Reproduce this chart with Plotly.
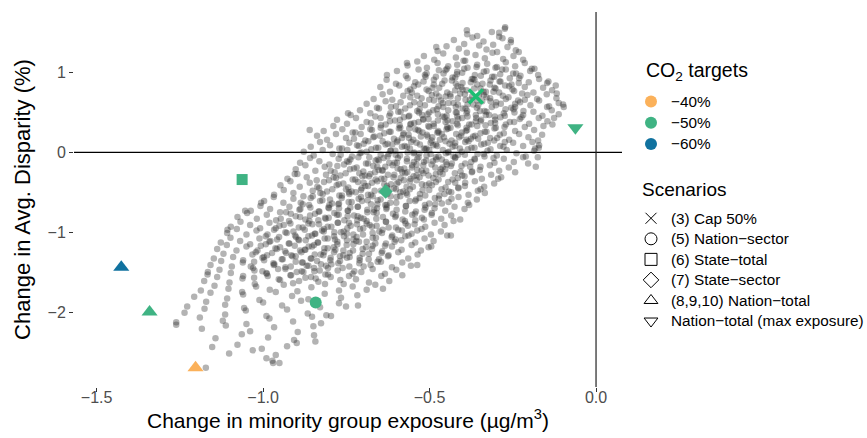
import plotly.graph_objects as go

# ---------------- data ----------------
# Monte-Carlo cloud: hand-estimated sample of the grey points
cloud_points = [
    (-0.388,1.53),(-0.357,1.46),(-0.313,1.51),(-0.291,1.45),(-0.274,1.55),
    (-0.427,1.41),(-0.396,1.36),(-0.371,1.44),(-0.338,1.39),(-0.309,1.35),(-0.281,1.43),(-0.256,1.38),
    (-0.476,1.27),(-0.449,1.33),(-0.412,1.30),(-0.388,1.25),(-0.351,1.34),(-0.329,1.29),(-0.297,1.26),(-0.266,1.32),(-0.241,1.28),
    (-0.517,1.21),(-0.486,1.16),(-0.459,1.24),(-0.421,1.19),(-0.398,1.15),(-0.362,1.22),(-0.334,1.18),(-0.311,1.25),(-0.279,1.17),(-0.248,1.21),(-0.219,1.16),
    (-0.566,1.09),(-0.537,1.14),(-0.508,1.06),(-0.476,1.12),(-0.448,1.05),(-0.417,1.10),(-0.393,1.15),(-0.359,1.07),(-0.327,1.11),(-0.302,1.06),(-0.271,1.13),(-0.243,1.08),(-0.214,1.12),(-0.193,1.05),
    (-0.598,1.02),(-0.571,0.96),(-0.533,1.04),(-0.509,0.99),(-0.481,0.95),(-0.452,1.03),(-0.418,0.98),(-0.396,1.05),(-0.364,0.97),(-0.337,1.01),(-0.306,0.95),(-0.282,1.04),(-0.249,0.99),(-0.227,0.96),(-0.198,1.02),(-0.174,0.97),
    (-0.629,0.91),(-0.601,0.86),(-0.566,0.93),(-0.543,0.88),(-0.512,0.95),(-0.487,0.85),(-0.455,0.90),(-0.423,0.94),(-0.401,0.87),(-0.369,0.92),(-0.341,0.86),(-0.312,0.95),(-0.287,0.89),(-0.254,0.85),(-0.231,0.93),(-0.202,0.88),(-0.171,0.92),(-0.147,0.87),
    (-0.648,0.82),(-0.619,0.76),(-0.591,0.84),(-0.558,0.79),(-0.534,0.85),(-0.503,0.77),(-0.471,0.81),(-0.447,0.75),(-0.416,0.83),(-0.389,0.78),(-0.357,0.85),(-0.331,0.76),(-0.302,0.80),(-0.273,0.84),(-0.246,0.77),(-0.214,0.82),(-0.188,0.75),(-0.159,0.81),(-0.132,0.78),(-0.121,0.84),
    (-0.668,0.67),(-0.641,0.73),(-0.612,0.66),(-0.579,0.71),(-0.553,0.75),(-0.524,0.68),(-0.493,0.72),(-0.466,0.65),(-0.437,0.70),(-0.408,0.74),(-0.379,0.66),(-0.352,0.71),(-0.318,0.68),(-0.291,0.75),(-0.263,0.69),(-0.234,0.65),(-0.206,0.72),(-0.177,0.67),(-0.148,0.73),(-0.119,0.68),
    (-0.689,0.61),(-0.658,0.56),(-0.632,0.64),(-0.601,0.58),(-0.573,0.55),(-0.546,0.63),(-0.514,0.59),(-0.487,0.65),(-0.459,0.57),(-0.428,0.62),(-0.401,0.55),(-0.369,0.60),(-0.342,0.64),(-0.313,0.57),(-0.286,0.61),(-0.255,0.56),(-0.228,0.63),(-0.197,0.59),(-0.171,0.65),(-0.141,0.58),(-0.112,0.62),(-0.097,0.57),
    (-0.737,0.47),(-0.709,0.53),(-0.678,0.49),(-0.652,0.55),(-0.621,0.46),(-0.594,0.51),(-0.563,0.45),(-0.537,0.52),(-0.506,0.48),(-0.478,0.54),(-0.449,0.46),(-0.421,0.50),(-0.392,0.55),(-0.361,0.47),(-0.335,0.52),(-0.304,0.45),(-0.277,0.49),(-0.248,0.54),(-0.219,0.47),(-0.188,0.51),(-0.161,0.46),(-0.133,0.53),(-0.112,0.48),
    (-0.778,0.41),(-0.748,0.36),(-0.721,0.43),(-0.689,0.38),(-0.663,0.45),(-0.632,0.35),(-0.604,0.40),(-0.577,0.44),(-0.546,0.37),(-0.519,0.42),(-0.488,0.36),(-0.461,0.45),(-0.431,0.39),(-0.402,0.43),(-0.374,0.35),(-0.345,0.41),(-0.316,0.37),(-0.287,0.44),(-0.259,0.38),(-0.229,0.42),(-0.201,0.36),(-0.172,0.43),(-0.146,0.39),(-0.131,0.35),
    (-0.818,0.27),(-0.789,0.33),(-0.762,0.29),(-0.731,0.25),(-0.704,0.32),(-0.673,0.28),(-0.646,0.34),(-0.617,0.26),(-0.588,0.31),(-0.558,0.35),(-0.531,0.27),(-0.501,0.32),(-0.473,0.25),(-0.444,0.30),(-0.415,0.34),(-0.387,0.28),(-0.357,0.33),(-0.329,0.26),(-0.301,0.31),(-0.271,0.35),(-0.243,0.27),(-0.214,0.32),(-0.186,0.28),(-0.158,0.33),
    (-0.838,0.21),(-0.808,0.16),(-0.781,0.23),(-0.751,0.18),(-0.723,0.25),(-0.693,0.15),(-0.666,0.20),(-0.636,0.24),(-0.607,0.17),(-0.579,0.22),(-0.549,0.16),(-0.521,0.25),(-0.492,0.19),(-0.463,0.23),(-0.434,0.15),(-0.405,0.21),(-0.376,0.17),(-0.347,0.24),(-0.318,0.18),(-0.289,0.22),(-0.261,0.16),(-0.231,0.23),(-0.203,0.19),(-0.174,0.15),(-0.162,0.22),
    (-0.857,0.07),(-0.829,0.13),(-0.799,0.09),(-0.771,0.05),(-0.741,0.12),(-0.713,0.08),(-0.684,0.14),(-0.654,0.06),(-0.626,0.11),(-0.596,0.15),(-0.568,0.07),(-0.539,0.12),(-0.509,0.05),(-0.481,0.10),(-0.452,0.14),(-0.423,0.08),(-0.393,0.13),(-0.365,0.06),(-0.336,0.11),(-0.306,0.15),(-0.278,0.07),(-0.249,0.12),(-0.219,0.08),(-0.191,0.13),(-0.172,0.06),
    (-0.878,0.01),(-0.848,-0.04),(-0.821,0.03),(-0.791,-0.02),(-0.763,0.05),(-0.733,-0.05),(-0.705,0.00),(-0.675,0.04),(-0.647,-0.03),(-0.617,0.02),(-0.589,-0.04),(-0.559,0.05),(-0.531,-0.01),(-0.501,0.03),(-0.473,-0.05),(-0.443,0.01),(-0.414,-0.03),(-0.385,0.04),(-0.356,-0.02),(-0.326,0.02),(-0.298,-0.04),(-0.268,0.03),(-0.239,-0.01),(-0.211,-0.05),(-0.186,0.02),
    (-0.889,-0.13),(-0.859,-0.07),(-0.831,-0.11),(-0.801,-0.15),(-0.773,-0.08),(-0.743,-0.12),(-0.714,-0.06),(-0.685,-0.14),(-0.656,-0.09),(-0.626,-0.05),(-0.598,-0.13),(-0.568,-0.08),(-0.539,-0.15),(-0.510,-0.10),(-0.481,-0.06),(-0.451,-0.12),(-0.423,-0.07),(-0.393,-0.14),(-0.364,-0.09),(-0.335,-0.05),(-0.305,-0.13),(-0.277,-0.08),(-0.247,-0.12),(-0.219,-0.06),(-0.204,-0.14),
    (-0.902,-0.21),(-0.873,-0.16),(-0.843,-0.23),(-0.815,-0.18),(-0.785,-0.25),(-0.757,-0.15),(-0.727,-0.20),(-0.699,-0.24),(-0.669,-0.17),(-0.641,-0.22),(-0.611,-0.16),(-0.582,-0.25),(-0.553,-0.19),(-0.524,-0.23),(-0.494,-0.15),(-0.466,-0.21),(-0.436,-0.17),(-0.407,-0.24),(-0.378,-0.18),(-0.349,-0.22),(-0.319,-0.16),(-0.291,-0.23),(-0.262,-0.19),(-0.243,-0.25),
    (-0.927,-0.33),(-0.897,-0.27),(-0.869,-0.31),(-0.839,-0.35),(-0.811,-0.28),(-0.781,-0.32),(-0.752,-0.26),(-0.723,-0.34),(-0.694,-0.29),(-0.664,-0.25),(-0.636,-0.33),(-0.606,-0.28),(-0.577,-0.35),(-0.548,-0.30),(-0.519,-0.26),(-0.489,-0.32),(-0.461,-0.27),(-0.431,-0.34),(-0.402,-0.29),(-0.373,-0.25),(-0.343,-0.33),(-0.315,-0.28),(-0.285,-0.31),
    (-0.948,-0.41),(-0.918,-0.36),(-0.890,-0.43),(-0.860,-0.38),(-0.832,-0.45),(-0.802,-0.35),(-0.773,-0.40),(-0.744,-0.44),(-0.715,-0.37),(-0.685,-0.42),(-0.657,-0.36),(-0.627,-0.45),(-0.598,-0.39),(-0.569,-0.43),(-0.539,-0.35),(-0.511,-0.41),(-0.481,-0.37),(-0.452,-0.44),(-0.423,-0.38),(-0.394,-0.42),(-0.364,-0.36),(-0.336,-0.43),(-0.306,-0.39),
    (-0.967,-0.53),(-0.938,-0.47),(-0.909,-0.51),(-0.879,-0.55),(-0.851,-0.48),(-0.821,-0.52),(-0.792,-0.46),(-0.763,-0.54),(-0.734,-0.49),(-0.704,-0.45),(-0.676,-0.53),(-0.646,-0.48),(-0.617,-0.55),(-0.588,-0.50),(-0.559,-0.46),(-0.529,-0.52),(-0.501,-0.47),(-0.471,-0.54),(-0.442,-0.49),(-0.413,-0.45),(-0.383,-0.53),(-0.355,-0.48),(-0.334,-0.51),
    (-0.997,-0.61),(-0.968,-0.56),(-0.939,-0.63),(-0.909,-0.58),(-0.881,-0.65),(-0.851,-0.55),(-0.822,-0.60),(-0.793,-0.64),(-0.764,-0.57),(-0.734,-0.62),(-0.706,-0.56),(-0.676,-0.65),(-0.647,-0.59),(-0.618,-0.63),(-0.588,-0.55),(-0.560,-0.61),(-0.530,-0.57),(-0.501,-0.64),(-0.472,-0.58),(-0.443,-0.62),(-0.413,-0.56),(-0.385,-0.63),(-0.358,-0.59),
    (-1.037,-0.73),(-1.008,-0.67),(-0.979,-0.71),(-0.949,-0.75),(-0.921,-0.68),(-0.891,-0.72),(-0.862,-0.66),(-0.833,-0.74),(-0.804,-0.69),(-0.774,-0.65),(-0.746,-0.73),(-0.716,-0.68),(-0.687,-0.75),(-0.658,-0.70),(-0.629,-0.66),(-0.599,-0.72),(-0.571,-0.67),(-0.541,-0.74),(-0.512,-0.69),(-0.483,-0.65),(-0.453,-0.73),(-0.425,-0.68),(-0.395,-0.71),(-0.381,-0.66),
    (-1.077,-0.81),(-1.048,-0.76),(-1.019,-0.83),(-0.989,-0.78),(-0.961,-0.85),(-0.931,-0.75),(-0.902,-0.80),(-0.873,-0.84),(-0.844,-0.77),(-0.814,-0.82),(-0.786,-0.76),(-0.756,-0.85),(-0.727,-0.79),(-0.698,-0.83),(-0.668,-0.75),(-0.640,-0.81),(-0.610,-0.77),(-0.581,-0.84),(-0.552,-0.78),(-0.523,-0.82),(-0.493,-0.76),(-0.465,-0.83),(-0.435,-0.79),(-0.408,-0.84),
    (-1.097,-0.93),(-1.068,-0.87),(-1.039,-0.91),(-1.009,-0.95),(-0.981,-0.88),(-0.951,-0.92),(-0.922,-0.86),(-0.893,-0.94),(-0.864,-0.89),(-0.834,-0.85),(-0.806,-0.93),(-0.776,-0.88),(-0.747,-0.95),(-0.718,-0.90),(-0.689,-0.86),(-0.659,-0.92),(-0.631,-0.87),(-0.601,-0.94),(-0.572,-0.89),(-0.543,-0.85),(-0.513,-0.93),(-0.485,-0.88),(-0.455,-0.91),(-0.428,-0.86),
    (-1.108,-1.01),(-1.079,-0.96),(-1.050,-1.03),(-1.020,-0.98),(-0.992,-1.05),(-0.962,-0.95),(-0.933,-1.00),(-0.904,-1.04),(-0.875,-0.97),(-0.845,-1.02),(-0.817,-0.96),(-0.787,-1.05),(-0.758,-0.99),(-0.729,-1.03),(-0.699,-0.95),(-0.671,-1.01),(-0.641,-0.97),(-0.612,-1.04),(-0.583,-0.98),(-0.554,-1.02),(-0.524,-0.96),(-0.496,-1.03),(-0.466,-0.99),(-0.447,-1.04),
    (-1.127,-1.13),(-1.098,-1.07),(-1.069,-1.11),(-1.039,-1.15),(-1.011,-1.08),(-0.981,-1.12),(-0.952,-1.06),(-0.923,-1.14),(-0.894,-1.09),(-0.864,-1.05),(-0.836,-1.13),(-0.806,-1.08),(-0.777,-1.15),(-0.748,-1.10),(-0.719,-1.06),(-0.689,-1.12),(-0.661,-1.07),(-0.631,-1.14),(-0.602,-1.09),(-0.573,-1.05),(-0.543,-1.13),(-0.515,-1.08),(-0.488,-1.11),
    (-1.138,-1.21),(-1.109,-1.16),(-1.080,-1.23),(-1.050,-1.18),(-1.022,-1.25),(-0.992,-1.15),(-0.963,-1.20),(-0.934,-1.24),(-0.905,-1.17),(-0.875,-1.22),(-0.847,-1.16),(-0.817,-1.25),(-0.788,-1.19),(-0.759,-1.23),(-0.729,-1.15),(-0.701,-1.21),(-0.671,-1.17),(-0.642,-1.24),(-0.613,-1.18),(-0.584,-1.22),(-0.554,-1.16),(-0.526,-1.23),(-0.503,-1.19),
    (-1.148,-1.33),(-1.119,-1.27),(-1.090,-1.31),(-1.060,-1.35),(-1.032,-1.28),(-1.002,-1.32),(-0.973,-1.26),(-0.944,-1.34),(-0.915,-1.29),(-0.885,-1.25),(-0.857,-1.33),(-0.827,-1.28),(-0.798,-1.35),(-0.769,-1.30),(-0.740,-1.26),(-0.710,-1.32),(-0.682,-1.27),(-0.652,-1.34),(-0.623,-1.29),(-0.594,-1.25),(-0.564,-1.33),(-0.536,-1.28),
    (-1.158,-1.41),(-1.126,-1.36),(-1.094,-1.43),(-1.061,-1.38),(-1.030,-1.45),(-0.997,-1.35),(-0.966,-1.40),(-0.933,-1.44),(-0.902,-1.37),(-0.869,-1.42),(-0.838,-1.36),(-0.805,-1.45),(-0.774,-1.39),(-0.741,-1.43),(-0.710,-1.35),(-0.677,-1.41),(-0.646,-1.37),(-0.613,-1.44),(-0.582,-1.38),(-0.556,-1.42),
    (-1.167,-1.53),(-1.131,-1.47),(-1.097,-1.51),(-1.060,-1.55),(-1.026,-1.48),(-0.989,-1.52),(-0.955,-1.46),(-0.918,-1.54),(-0.884,-1.49),(-0.847,-1.45),(-0.813,-1.53),(-0.776,-1.48),(-0.742,-1.55),(-0.705,-1.50),(-0.671,-1.46),(-0.634,-1.52),(-0.600,-1.47),(-0.582,-1.54),
    (-1.177,-1.61),(-1.138,-1.56),(-1.101,-1.63),(-1.062,-1.58),(-1.025,-1.65),(-0.986,-1.55),(-0.949,-1.60),(-0.910,-1.64),(-0.873,-1.57),(-0.834,-1.62),(-0.797,-1.56),(-0.758,-1.65),(-0.721,-1.59),(-0.682,-1.63),(-0.645,-1.55),(-0.621,-1.61),
    (-1.187,-1.73),(-1.146,-1.67),(-1.104,-1.71),(-1.063,-1.75),(-1.021,-1.68),(-0.980,-1.72),(-0.938,-1.66),(-0.897,-1.74),(-0.855,-1.69),(-0.814,-1.65),(-0.772,-1.73),(-0.731,-1.68),(-0.689,-1.72),(-0.663,-1.66),
    (-1.207,-1.81),(-1.158,-1.76),(-1.108,-1.83),(-1.060,-1.78),(-1.011,-1.85),(-0.962,-1.75),(-0.913,-1.80),(-0.864,-1.84),(-0.815,-1.77),(-0.766,-1.82),(-0.717,-1.79),
    (-1.228,-1.93),(-1.171,-1.87),(-1.114,-1.91),(-1.057,-1.95),(-1.000,-1.88),(-0.943,-1.92),(-0.886,-1.86),(-0.829,-1.94),(-0.772,-1.89),(-0.751,-1.93),
    (-1.236,-2.01),(-1.176,-1.96),(-1.114,-2.03),(-1.052,-1.98),(-0.990,-2.05),(-0.928,-1.97),(-0.866,-2.02),(-0.810,-2.04),
    (-1.261,-2.13),(-1.190,-2.07),(-1.121,-2.11),(-1.050,-2.15),(-0.981,-2.08),(-0.910,-2.12),(-0.853,-2.06),(-0.826,-2.14),
    (-1.184,-2.21),(-1.112,-2.17),(-1.039,-2.24),(-0.967,-2.19),(-0.896,-2.25),(-0.849,-2.18),
    (-1.143,-2.33),(-1.064,-2.28),(-0.985,-2.32),(-0.907,-2.35),(-0.847,-2.29),
    (-1.153,-2.44),(-1.077,-2.41),(-1.004,-2.46),(-0.928,-2.43),(-0.899,-2.39),
    (-1.102,-2.52),(-1.031,-2.48),(-0.962,-2.54),
    (-0.972,-2.61),(-1.172,-2.70),(-0.990,-2.58),(-0.951,-2.64),
    # scattered edge points
    (-0.273,1.57),(-0.387,1.48),(-0.291,1.50),(-0.480,1.32),(-0.568,1.12),(-0.628,0.97),
    (-0.099,0.60),(-0.126,0.43),(-0.171,0.09),(-0.183,0.05),(-0.147,0.57),(-0.860,0.28),
    (-0.745,0.49),(-0.905,-0.27),(-0.181,-0.18),(-0.175,-0.06),(-0.436,-1.04),(-0.537,-1.41),
    (-0.495,-1.18),(-0.640,-1.71),(-0.715,-1.92),(-0.796,-2.05),(-0.843,-2.37),(-0.970,-2.64),
    (-1.261,-2.16),(-1.166,-1.50),(-1.107,-0.97),(-1.054,-0.73),(-1.006,-0.63),(-0.347,-0.46),
    (-0.294,-0.33),(-0.118,0.74),(-0.143,0.89),(-0.185,1.05),(-0.232,1.26),(-0.256,1.41),
    # denser inner band
    (-0.472,1.03),(-0.444,1.08),(-0.417,1.01),(-0.386,1.06),(-0.357,1.10),(-0.329,1.02),(-0.298,1.07),(-0.271,1.04),
    (-0.514,0.97),(-0.487,0.91),(-0.458,0.99),(-0.431,0.94),(-0.402,1.00),(-0.373,0.92),(-0.346,0.96),(-0.317,0.90),(-0.288,0.98),(-0.259,0.93),(-0.240,0.99),
    (-0.547,0.83),(-0.518,0.89),(-0.491,0.81),(-0.462,0.86),(-0.433,0.90),(-0.405,0.82),(-0.376,0.88),(-0.347,0.80),(-0.319,0.85),(-0.290,0.89),(-0.261,0.83),(-0.232,0.87),
    (-0.566,0.77),(-0.537,0.71),(-0.509,0.79),(-0.480,0.74),(-0.452,0.70),(-0.423,0.78),(-0.394,0.73),(-0.366,0.80),(-0.337,0.72),(-0.308,0.76),(-0.280,0.71),(-0.251,0.79),(-0.222,0.74),
    (-0.587,0.63),(-0.558,0.69),(-0.529,0.61),(-0.501,0.66),(-0.472,0.70),(-0.443,0.62),(-0.415,0.68),(-0.386,0.60),(-0.357,0.65),(-0.329,0.69),(-0.300,0.63),(-0.271,0.67),(-0.243,0.61),(-0.214,0.66),
    (-0.616,0.57),(-0.587,0.51),(-0.559,0.59),(-0.530,0.54),(-0.501,0.50),(-0.473,0.58),(-0.444,0.53),(-0.415,0.60),(-0.387,0.52),(-0.358,0.56),(-0.329,0.51),(-0.301,0.59),(-0.272,0.54),(-0.243,0.57),(-0.218,0.52),
    (-0.647,0.43),(-0.618,0.49),(-0.589,0.41),(-0.561,0.46),(-0.532,0.50),(-0.503,0.42),(-0.475,0.48),(-0.446,0.40),(-0.417,0.45),(-0.389,0.49),(-0.360,0.43),(-0.331,0.47),(-0.303,0.41),(-0.274,0.46),(-0.245,0.50),(-0.224,0.44),
    (-0.676,0.37),(-0.647,0.31),(-0.619,0.39),(-0.590,0.34),(-0.561,0.30),(-0.533,0.38),(-0.504,0.33),(-0.475,0.40),(-0.447,0.32),(-0.418,0.36),(-0.389,0.31),(-0.361,0.39),(-0.332,0.34),(-0.303,0.37),(-0.275,0.32),(-0.246,0.38),
    (-0.707,0.23),(-0.678,0.29),(-0.649,0.21),(-0.621,0.26),(-0.592,0.30),(-0.563,0.22),(-0.535,0.28),(-0.506,0.20),(-0.477,0.25),(-0.449,0.29),(-0.420,0.23),(-0.391,0.27),(-0.363,0.21),(-0.334,0.26),(-0.305,0.30),(-0.277,0.24),
    (-0.727,0.17),(-0.698,0.11),(-0.669,0.19),(-0.641,0.14),(-0.612,0.10),(-0.583,0.18),(-0.555,0.13),(-0.526,0.20),(-0.497,0.12),(-0.469,0.16),(-0.440,0.11),(-0.411,0.19),(-0.383,0.14),(-0.354,0.17),(-0.325,0.12),(-0.297,0.18),(-0.274,0.13),
    (-0.747,0.03),(-0.718,0.09),(-0.689,0.01),(-0.661,0.06),(-0.632,0.10),(-0.603,0.02),(-0.575,0.08),(-0.546,0.00),(-0.517,0.05),(-0.489,0.09),(-0.460,0.03),(-0.431,0.07),(-0.403,0.01),(-0.374,0.06),(-0.345,0.10),(-0.317,0.04),(-0.288,0.08),
    (-0.767,-0.03),(-0.738,-0.09),(-0.709,-0.01),(-0.681,-0.06),(-0.652,-0.10),(-0.623,-0.02),(-0.595,-0.07),(-0.566,0.00),(-0.537,-0.08),(-0.509,-0.04),(-0.480,-0.09),(-0.451,-0.01),(-0.423,-0.06),(-0.394,-0.03),(-0.365,-0.08),(-0.337,-0.02),(-0.308,-0.07),
    (-0.777,-0.17),(-0.748,-0.11),(-0.719,-0.19),(-0.691,-0.14),(-0.662,-0.10),(-0.633,-0.18),(-0.605,-0.13),(-0.576,-0.20),(-0.547,-0.12),(-0.519,-0.16),(-0.490,-0.11),(-0.461,-0.19),(-0.433,-0.14),(-0.404,-0.17),(-0.375,-0.12),(-0.347,-0.18),
    (-0.797,-0.23),(-0.768,-0.29),(-0.739,-0.21),(-0.711,-0.26),(-0.682,-0.30),(-0.653,-0.22),(-0.625,-0.28),(-0.596,-0.20),(-0.567,-0.25),(-0.539,-0.29),(-0.510,-0.23),(-0.481,-0.27),(-0.453,-0.21),(-0.424,-0.26),(-0.395,-0.30),(-0.372,-0.24),
    (-0.817,-0.37),(-0.788,-0.31),(-0.759,-0.39),(-0.731,-0.34),(-0.702,-0.30),(-0.673,-0.38),(-0.645,-0.33),(-0.616,-0.40),(-0.587,-0.32),(-0.559,-0.36),(-0.530,-0.31),(-0.501,-0.39),(-0.473,-0.34),(-0.444,-0.37),(-0.415,-0.32),(-0.393,-0.38),
    (-0.837,-0.43),(-0.808,-0.49),(-0.779,-0.41),(-0.751,-0.46),(-0.722,-0.50),(-0.693,-0.42),(-0.665,-0.48),(-0.636,-0.40),(-0.607,-0.45),(-0.579,-0.49),(-0.550,-0.43),(-0.521,-0.47),(-0.493,-0.41),(-0.464,-0.46),(-0.435,-0.50),(-0.414,-0.44),
    (-0.857,-0.57),(-0.828,-0.51),(-0.799,-0.59),(-0.771,-0.54),(-0.742,-0.50),(-0.713,-0.58),(-0.685,-0.53),(-0.656,-0.60),(-0.627,-0.52),(-0.599,-0.56),(-0.570,-0.51),(-0.541,-0.59),(-0.513,-0.54),(-0.484,-0.57),(-0.455,-0.52),(-0.434,-0.58),
    (-0.887,-0.63),(-0.858,-0.69),(-0.829,-0.61),(-0.801,-0.66),(-0.772,-0.70),(-0.743,-0.62),(-0.715,-0.68),(-0.686,-0.60),(-0.657,-0.65),(-0.629,-0.69),(-0.600,-0.63),(-0.571,-0.67),(-0.543,-0.61),(-0.514,-0.66),(-0.485,-0.70),(-0.463,-0.64),
    (-0.917,-0.77),(-0.888,-0.71),(-0.859,-0.79),(-0.831,-0.74),(-0.802,-0.70),(-0.773,-0.78),(-0.745,-0.73),(-0.716,-0.80),(-0.687,-0.72),(-0.659,-0.76),(-0.630,-0.71),(-0.601,-0.79),(-0.573,-0.74),(-0.544,-0.77),(-0.515,-0.72),(-0.494,-0.78),
    (-0.947,-0.83),(-0.918,-0.89),(-0.889,-0.81),(-0.861,-0.86),(-0.832,-0.90),(-0.803,-0.82),(-0.775,-0.88),(-0.746,-0.80),(-0.717,-0.85),(-0.689,-0.89),(-0.660,-0.83),(-0.631,-0.87),(-0.603,-0.81),(-0.574,-0.86),(-0.545,-0.90),(-0.517,-0.84),
    (-0.967,-0.97),(-0.938,-0.91),(-0.909,-0.99),(-0.881,-0.94),(-0.852,-0.90),(-0.823,-0.98),(-0.795,-0.93),(-0.766,-1.00),(-0.737,-0.92),(-0.709,-0.96),(-0.680,-0.91),(-0.651,-0.99),(-0.623,-0.94),(-0.594,-0.97),(-0.565,-0.92),(-0.537,-0.98),
    (-0.987,-1.03),(-0.958,-1.09),(-0.929,-1.01),(-0.901,-1.06),(-0.872,-1.10),(-0.843,-1.02),(-0.815,-1.08),(-0.786,-1.00),(-0.757,-1.05),(-0.729,-1.09),(-0.700,-1.03),(-0.671,-1.07),(-0.643,-1.01),(-0.614,-1.06),(-0.585,-1.10),(-0.563,-1.04),
    (-1.007,-1.17),(-0.978,-1.11),(-0.949,-1.19),(-0.921,-1.14),(-0.892,-1.10),(-0.863,-1.18),(-0.835,-1.13),(-0.806,-1.20),(-0.777,-1.12),(-0.749,-1.16),(-0.720,-1.11),(-0.691,-1.19),(-0.663,-1.14),(-0.634,-1.17),(-0.605,-1.12),
    (-1.017,-1.23),(-0.988,-1.29),(-0.959,-1.21),(-0.931,-1.26),(-0.902,-1.30),(-0.873,-1.22),(-0.845,-1.28),(-0.816,-1.20),(-0.787,-1.25),(-0.759,-1.29),(-0.730,-1.23),(-0.701,-1.27),(-0.673,-1.21),(-0.644,-1.26),(-0.625,-1.30),
    (-1.027,-1.37),(-0.998,-1.31),(-0.969,-1.39),(-0.941,-1.34),(-0.912,-1.30),(-0.883,-1.38),(-0.855,-1.33),(-0.826,-1.40),(-0.797,-1.32),(-0.769,-1.36),(-0.740,-1.31),(-0.711,-1.39),(-0.683,-1.34),(-0.656,-1.37),
    (-1.037,-1.43),(-1.002,-1.49),(-0.968,-1.41),(-0.933,-1.46),(-0.899,-1.50),(-0.864,-1.42),(-0.830,-1.48),(-0.795,-1.40),(-0.761,-1.45),(-0.726,-1.49),(-0.698,-1.43),
    (-1.027,-1.57),(-0.990,-1.51),(-0.953,-1.59),(-0.916,-1.54),(-0.879,-1.50),(-0.842,-1.58),(-0.805,-1.53),(-0.768,-1.60),(-0.731,-1.52),
    # darkest core
    (-0.460,0.62),(-0.421,0.57),(-0.392,0.66),(-0.354,0.59),(-0.317,0.64),(-0.438,0.73),(-0.401,0.79),(-0.372,0.70),(-0.338,0.76),(-0.305,0.81),(-0.421,0.86),(-0.365,0.91),
    (-0.522,0.47),(-0.489,0.53),(-0.455,0.44),(-0.418,0.50),(-0.386,0.45),(-0.349,0.52),(-0.321,0.47),
    (-0.556,0.36),(-0.519,0.41),(-0.487,0.33),(-0.452,0.38),(-0.414,0.42),(-0.381,0.35),(-0.347,0.39),
    (-0.578,0.24),(-0.543,0.29),(-0.508,0.22),(-0.474,0.27),(-0.437,0.31),(-0.403,0.25),(-0.369,0.20),
    (-0.598,0.13),(-0.562,0.18),(-0.529,0.10),(-0.494,0.15),(-0.457,0.19),(-0.423,0.12),(-0.389,0.16),
    (-0.617,0.02),(-0.583,0.07),(-0.548,-0.01),(-0.513,0.04),(-0.477,0.08),(-0.444,0.00),(-0.409,0.05),
    (-0.638,-0.07),(-0.602,-0.03),(-0.568,-0.11),(-0.533,-0.06),(-0.497,-0.02),(-0.463,-0.09),(-0.428,-0.05),
    (-0.657,-0.18),(-0.621,-0.13),(-0.587,-0.21),(-0.552,-0.16),(-0.517,-0.12),(-0.483,-0.19),(-0.448,-0.15),
    (-0.678,-0.27),(-0.642,-0.23),(-0.608,-0.31),(-0.573,-0.26),(-0.537,-0.22),(-0.503,-0.29),(-0.469,-0.25),
    (-0.698,-0.38),(-0.662,-0.34),(-0.628,-0.42),(-0.593,-0.37),(-0.557,-0.33),(-0.523,-0.40),
    (-0.741,-0.52),(-0.706,-0.47),(-0.671,-0.55),(-0.636,-0.50),(-0.601,-0.46),(-0.567,-0.53),
    (-0.772,-0.64),(-0.738,-0.69),(-0.703,-0.61),(-0.667,-0.72),(-0.633,-0.66),
    (-0.812,-0.83),(-0.778,-0.78),(-0.742,-0.88),(-0.707,-0.82),(-0.673,-0.93),
    (-0.853,-1.04),(-0.818,-0.99),(-0.784,-1.09),(-0.748,-1.02),(-0.712,-1.12),
    (-0.889,-1.23),(-0.853,-1.18),(-0.819,-1.29),(-0.783,-1.22),(-0.748,-1.32),
    (-0.917,-1.43),(-0.881,-1.38),(-0.846,-1.49),(-0.811,-1.42),(-0.892,-1.61),(-0.856,-1.56),
]
cloud_x = [p[0] for p in cloud_points]
cloud_y = [p[1] for p in cloud_points]

# highlighted scenarios
scen_names   = ["(3) Cap 50%", "(5) Nation\u2212sector", "(6) State\u2212total", "(7) State\u2212sector",
                "(8,9,10) Nation\u2212total", "(8,9,10) Nation\u2212total", "(8,9,10) Nation\u2212total",
                "Nation\u2212total (max exposure)"]
scen_target  = ["\u221250%", "\u221250%", "\u221250%", "\u221250%", "\u221240%", "\u221250%", "\u221260%", "\u221250%"]
scen_x       = [-0.361, -0.842, -1.063, -0.632, -1.203, -1.341, -1.426, -0.062]
scen_y       = [0.70, -1.88, -0.34, -0.49, -2.70, -2.00, -1.44, 0.31]

target_labels = ["\u221240%", "\u221250%", "\u221260%"]
target_colors = {"\u221240%": "#FBB15A", "\u221250%": "#3FB383", "\u221260%": "#10729F"}

legend_scen = ["(3) Cap 50%", "(5) Nation\u2212sector", "(6) State\u2212total", "(7) State\u2212sector",
               "(8,9,10) Nation\u2212total", "Nation\u2212total (max exposure)"]
scen_symbol = {"(3) Cap 50%": "x-thin", "(5) Nation\u2212sector": "circle",
               "(6) State\u2212total": "square", "(7) State\u2212sector": "diamond",
               "(8,9,10) Nation\u2212total": "triangle-up",
               "Nation\u2212total (max exposure)": "triangle-down"}
scen_size = {"(3) Cap 50%": 14, "(5) Nation\u2212sector": 12, "(6) State\u2212total": 11,
             "(7) State\u2212sector": 11, "(8,9,10) Nation\u2212total": 14,
             "Nation\u2212total (max exposure)": 14}

x_ticks = [-1.5, -1.0, -0.5, 0.0]
x_ticktext = ["\u22121.5", "\u22121.0", "\u22120.5", "0.0"]
y_ticks = [-2, -1, 0, 1]
y_ticktext = ["\u22122", "\u22121", "0", "1"]

FONT = "Liberation Sans, Arial, Helvetica, sans-serif"
LEG_LABEL = '<span style="font-size:15.3px">{}</span>'

fig = go.Figure()

fig.add_trace(go.Scatter(
    x=cloud_x, y=cloud_y, mode="markers", showlegend=False, hoverinfo="skip",
    marker=dict(size=6.5, color="rgba(45,45,45,0.36)", line=dict(width=0)),
))

for name, tgt, x, y in zip(scen_names, scen_target, scen_x, scen_y):
    sym = scen_symbol[name]
    col = target_colors[tgt]
    if sym == "x-thin":
        mk = dict(symbol=sym, size=scen_size[name], color="#1DBE72",
                  line=dict(width=3.5, color="#1DBE72"))
    else:
        mk = dict(symbol=sym, size=scen_size[name], color=col, line=dict(width=0))
    fig.add_trace(go.Scatter(x=[x], y=[y], mode="markers", showlegend=False,
                             marker=mk, name=name, cliponaxis=False))

# legend entries: CO2 targets
for lab in target_labels:
    fig.add_trace(go.Scatter(x=[None], y=[None], mode="markers", name=LEG_LABEL.format(lab),
                             legend="legend",
                             marker=dict(symbol="circle", size=12, color=target_colors[lab])))
# legend entries: scenarios
for lab in legend_scen:
    sym = scen_symbol[lab]
    if sym == "x-thin":
        mk = dict(symbol="x-thin", size=11, color="black", line=dict(width=1, color="black"))
    else:
        mk = dict(symbol=sym + "-open", size=12, color="black", line=dict(width=1, color="black"))
    fig.add_trace(go.Scatter(x=[None], y=[None], mode="markers", name=LEG_LABEL.format(lab),
                             legend="legend2", marker=mk))

L, R, T, B = 74, 245, 12, 51
W, H = 867, 438
pw, ph = W - L - R, H - T - B

def px_x(px):
    return (px - L) / pw

def px_y(py):
    return (H - B - py) / ph

fig.update_layout(
    width=W, height=H,
    margin=dict(l=L, r=R, t=T, b=B, autoexpand=False),
    paper_bgcolor="white", plot_bgcolor="white",
    font=dict(family=FONT, color="black"),
    xaxis=dict(range=[-1.568, 0.078], tickvals=x_ticks, ticktext=x_ticktext,
               showgrid=False, zeroline=False, showline=False,
               ticks="outside", ticklen=4, tickwidth=1, tickcolor="#333333",
               ticklabelstandoff=-8,
               tickfont=dict(size=16, color="#4D4D4D", family=FONT),
               title=dict(text="Change in minority group exposure (\u00b5g/m<sup>3</sup>)",
                          font=dict(size=21, color="black", family=FONT), standoff=4),
               automargin=False),
    yaxis=dict(range=[-2.94, 1.76], tickvals=y_ticks, ticktext=y_ticktext,
               showgrid=False, zeroline=False, showline=False,
               ticks="outside", ticklen=4, tickwidth=1, tickcolor="#333333",
               tickfont=dict(size=16, color="#4D4D4D", family=FONT),
               title=dict(text="Change in Avg. Disparity (%)",
                          font=dict(size=22, color="black", family=FONT), standoff=10),
               automargin=False),
    legend=dict(x=px_x(631), y=px_y(86), xanchor="left", yanchor="top",
                font=dict(size=14, color="black", family=FONT),
                bgcolor="rgba(0,0,0,0)", borderwidth=0, itemclick=False),
    legend2=dict(x=px_x(631), y=px_y(203), xanchor="left", yanchor="top",
                 font=dict(size=13.5, color="black", family=FONT),
                 bgcolor="rgba(0,0,0,0)", borderwidth=0, itemclick=False),
    shapes=[
        dict(type="line", xref="x domain", yref="y", x0=0, x1=1, y0=0, y1=0,
             line=dict(color="black", width=1.2), layer="above"),
        dict(type="line", xref="x", yref="y domain", x0=0, x1=0, y0=0, y1=1,
             line=dict(color="#222222", width=1.2), layer="above"),
    ],
    annotations=[
        dict(text="CO<sub>2</sub> targets", xref="paper", yref="paper",
             x=px_x(644), y=px_y(71), xanchor="left", yanchor="middle", showarrow=False,
             font=dict(size=19.5, color="black", family=FONT)),
        dict(text="Scenarios", xref="paper", yref="paper",
             x=px_x(640), y=px_y(189), xanchor="left", yanchor="middle", showarrow=False,
             font=dict(size=19, color="black", family=FONT)),
    ],
)

fig.write_html("out.html", post_script="document.body.style.margin='0';",
               config={"displayModeBar": False})
